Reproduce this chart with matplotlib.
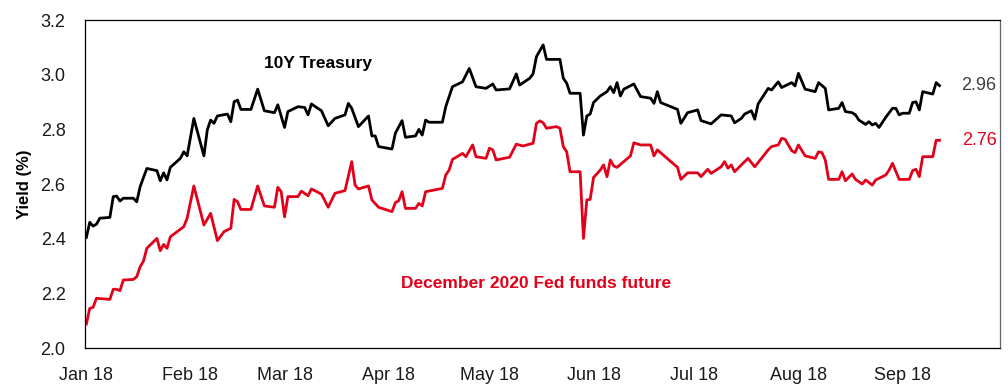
import pandas as pd
import matplotlib
matplotlib.use("Agg")
import matplotlib.pyplot as plt

plt.rcParams["font.family"] = ["Liberation Sans Narrow", "Liberation Sans", "DejaVu Sans"]

start = pd.Timestamp("2018-01-01")

# 10Y Treasury yield, days counted from 1 Jan 2018
ust_days = [0, 1, 2, 3, 4, 7, 8, 9, 10, 11, 14, 15, 16, 18, 21, 22, 23, 24, 25, 28,
            29, 30, 32, 35, 36, 37, 38, 39, 42, 43, 44, 45, 46, 49, 51, 53, 56, 57, 59, 60,
            63, 65, 66, 67, 70, 72, 74, 77, 78, 79, 81, 84, 85, 86, 87, 91, 92, 94, 95, 98,
            99, 100, 101, 102, 106, 107, 109, 112, 114, 116, 119, 121, 122, 126, 128, 129, 132, 133, 134, 136,
            137, 141, 142, 143, 144, 147, 148, 149, 150, 151, 153, 155, 156, 157, 158, 159, 160, 163, 165, 168,
            169, 170, 171, 176, 177, 179, 182, 183, 186, 189, 192, 193, 195, 196, 198, 199, 200, 203, 204, 206,
            207, 210, 211, 212, 214, 217, 218, 220, 221, 224, 225, 226, 228, 229, 230, 232, 233, 234, 235, 236,
            238, 240, 241, 242, 243, 245, 246, 247, 248, 249, 252, 253, 254]
ust_yield = [2.405, 2.46, 2.446, 2.453, 2.475, 2.478, 2.554, 2.556, 2.538, 2.548, 2.548, 2.535, 2.59, 2.657, 2.649, 2.612, 2.641, 2.615, 2.661, 2.694,
             2.718, 2.703, 2.84, 2.703, 2.798, 2.834, 2.822, 2.849, 2.856, 2.828, 2.901, 2.907, 2.873, 2.873, 2.947, 2.868, 2.861, 2.89, 2.807, 2.865,
             2.883, 2.88, 2.853, 2.893, 2.868, 2.813, 2.84, 2.853, 2.895, 2.877, 2.81, 2.849, 2.776, 2.776, 2.737, 2.728, 2.786, 2.832, 2.771, 2.776,
             2.8, 2.779, 2.834, 2.826, 2.826, 2.883, 2.956, 2.974, 3.023, 2.956, 2.95, 2.966, 2.944, 2.948, 3.003, 2.962, 2.987, 3.003, 3.066, 3.109,
             3.056, 3.056, 2.987, 2.969, 2.932, 2.932, 2.779, 2.849, 2.856, 2.898, 2.922, 2.938, 2.956, 2.934, 2.971, 2.922, 2.947, 2.966, 2.92, 2.914,
             2.895, 2.938, 2.898, 2.873, 2.822, 2.861, 2.871, 2.832, 2.82, 2.853, 2.849, 2.824, 2.84, 2.856, 2.868, 2.837, 2.893, 2.95, 2.944, 2.974,
             2.953, 2.971, 2.959, 3.005, 2.947, 2.938, 2.971, 2.95, 2.871, 2.877, 2.898, 2.865, 2.861, 2.853, 2.834, 2.818, 2.828, 2.816, 2.822, 2.807,
             2.844, 2.877, 2.877, 2.853, 2.859, 2.859, 2.898, 2.901, 2.871, 2.938, 2.929, 2.971, 2.96]

# December 2020 Fed funds future implied rate
ff_days = [0, 1, 2, 3, 7, 8, 9, 10, 11, 14, 15, 16, 17, 18, 21, 22, 23, 24, 25, 29,
           30, 32, 35, 37, 39, 41, 43, 44, 45, 46, 49, 51, 53, 56, 57, 58, 59, 60, 63, 64,
           66, 67, 70, 72, 74, 77, 79, 80, 81, 84, 85, 87, 91, 92, 93, 94, 95, 98, 99, 100,
           101, 106, 107, 108, 109, 112, 113, 115, 116, 119, 120, 121, 122, 126, 128, 130, 132, 133, 134, 135,
           136, 137, 140, 141, 142, 143, 144, 147, 148, 149, 150, 151, 153, 154, 155, 156, 157, 158, 162, 163,
           165, 168, 169, 170, 176, 177, 179, 182, 183, 185, 186, 189, 190, 191, 192, 193, 195, 197, 199, 203,
           204, 206, 207, 208, 210, 211, 212, 214, 217, 218, 219, 220, 221, 224, 225, 226, 228, 229, 231, 232,
           234, 235, 238, 239, 240, 242, 245, 246, 247, 248, 249, 252, 253, 254]
ff_rate = [2.088, 2.145, 2.149, 2.182, 2.178, 2.215, 2.215, 2.21, 2.249, 2.251, 2.261, 2.297, 2.318, 2.365, 2.401, 2.356, 2.379, 2.365, 2.407, 2.444,
           2.475, 2.593, 2.45, 2.493, 2.393, 2.426, 2.438, 2.544, 2.535, 2.507, 2.507, 2.593, 2.52, 2.515, 2.588, 2.572, 2.48, 2.554, 2.554, 2.574,
           2.557, 2.582, 2.563, 2.515, 2.566, 2.576, 2.682, 2.596, 2.582, 2.593, 2.542, 2.515, 2.499, 2.532, 2.539, 2.572, 2.511, 2.511, 2.529, 2.52,
           2.572, 2.584, 2.633, 2.651, 2.69, 2.712, 2.7, 2.743, 2.7, 2.694, 2.731, 2.725, 2.688, 2.698, 2.746, 2.739, 2.746, 2.749, 2.822, 2.831,
           2.824, 2.804, 2.81, 2.804, 2.737, 2.718, 2.645, 2.645, 2.401, 2.542, 2.544, 2.624, 2.651, 2.67, 2.627, 2.688, 2.666, 2.661, 2.703, 2.751,
           2.743, 2.743, 2.703, 2.725, 2.661, 2.617, 2.641, 2.641, 2.627, 2.654, 2.639, 2.663, 2.682, 2.658, 2.67, 2.645, 2.67, 2.694, 2.663, 2.725,
           2.737, 2.743, 2.767, 2.764, 2.722, 2.715, 2.743, 2.703, 2.694, 2.718, 2.715, 2.688, 2.617, 2.617, 2.645, 2.612, 2.637, 2.617, 2.6, 2.615,
           2.596, 2.615, 2.633, 2.651, 2.676, 2.617, 2.617, 2.649, 2.654, 2.627, 2.7, 2.7, 2.76, 2.76]

month_ticks = ["2018-01-01", "2018-02-01", "2018-03-01", "2018-04-01", "2018-05-01",
               "2018-06-01", "2018-07-01", "2018-08-01", "2018-09-01"]
month_labels = ["Jan 18", "Feb 18", "Mar 18", "Apr 18", "May 18", "Jun 18", "Jul 18", "Aug 18", "Sep 18"]

red = "#E2001A"

ust_dates = start + pd.to_timedelta(ust_days, unit="D")
ff_dates = start + pd.to_timedelta(ff_days, unit="D")

fig = plt.figure(figsize=(10.08, 3.85), dpi=100)
ax = fig.add_axes([0.0843, 0.096, 0.9077, 0.852])

ax.plot(ust_dates, ust_yield, color="black", lw=2.0)
ax.plot(ff_dates, ff_rate, color=red, lw=2.0)

ax.set_ylim(2.0, 3.2)
ax.set_yticks([2.0, 2.2, 2.4, 2.6, 2.8, 3.0, 3.2])
ax.yaxis.set_major_formatter(matplotlib.ticker.FormatStrFormatter("%.1f"))
ax.set_xlim(pd.Timestamp("2017-12-31 14:00"), pd.Timestamp("2018-09-30"))
ax.set_xticks(pd.to_datetime(month_ticks))
ax.set_xticklabels(month_labels)
ax.tick_params(axis="both", length=0, labelsize=13, colors="#1a1a1a")
ax.tick_params(axis="y", pad=14)
ax.tick_params(axis="x", pad=14)

for side in ["left", "bottom", "top"]:
    ax.spines[side].set_color("black")
    ax.spines[side].set_linewidth(0.9)
ax.spines["right"].set_color("#666666")
ax.spines["right"].set_linewidth(0.9)

ax.set_ylabel("Yield (%)", fontsize=12, fontweight="bold", labelpad=6)

# series names written on the plot area
ax.text(pd.Timestamp("2018-03-11"), 3.04, "10Y Treasury", fontsize=12.5, fontweight="bold",
        ha="center", va="center", color="black")
ax.text(pd.Timestamp("2018-05-15"), 2.235, "December 2020 Fed funds future", fontsize=12.5,
        fontweight="bold", ha="center", va="center", color=red)

# latest values at the right edge
ax.text(pd.Timestamp("2018-09-29"), ust_yield[-1], f"{ust_yield[-1]:.2f}", fontsize=13,
        ha="right", va="center", color="#404040")
ax.text(pd.Timestamp("2018-09-29"), ff_rate[-1], f"{ff_rate[-1]:.2f}", fontsize=13,
        ha="right", va="center", color=red)

fig.savefig("out.png", dpi=100)
